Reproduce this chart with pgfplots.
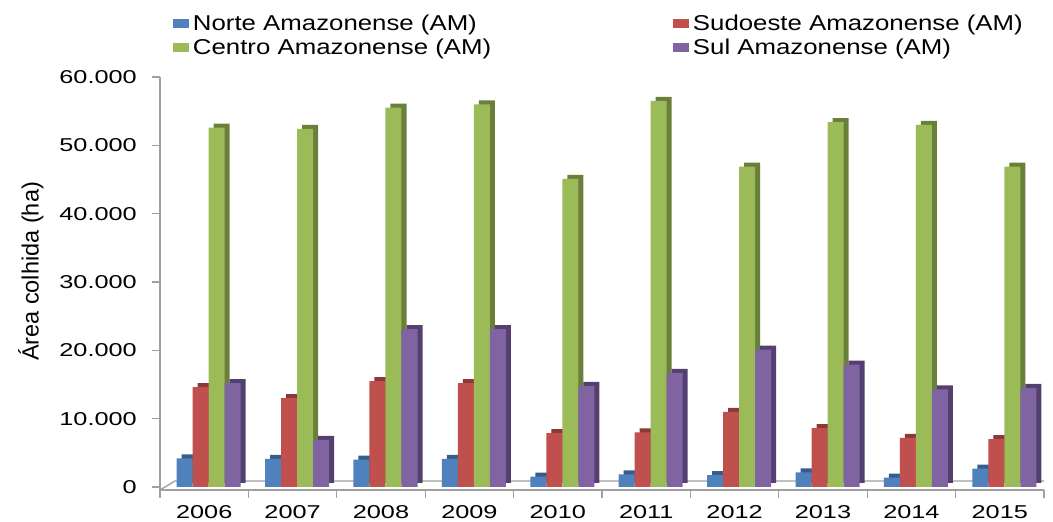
\documentclass[border=0pt]{standalone}
\usepackage{pgfplots}
\pgfplotsset{compat=1.18}
\usepackage{fontspec}
\setmainfont{Liberation Sans}
\newfontfamily\wfont[FakeStretch=1.36]{Liberation Sans}
\newfontfamily\gfont[FakeStretch=1.2]{Liberation Sans}
\newfontfamily\lfont{Liberation Sans}
\definecolor{axisgray}{RGB}{160,160,160}
\definecolor{cblue}{RGB}{79,129,189}
\definecolor{cred}{RGB}{192,80,77}
\definecolor{cgreen}{RGB}{155,187,89}
\definecolor{cpurple}{RGB}{128,100,162}
\definecolor{dblue}{RGB}{56,93,138}
\definecolor{dred}{RGB}{140,56,54}
\definecolor{dgreen}{RGB}{106,128,58}
\definecolor{dpurple}{RGB}{84,64,112}
\pgfplotsset{mylegend/.style={legend image code/.code={\fill[##1] (0pt,-2.7pt) rectangle (16pt,6.3pt);}}}
\pgfplotstableread{
x norte sudoeste centro sul
0 4200 14600 52600 15200
1 4100 13000 52400 6900
2 4000 15500 55500 23100
3 4100 15200 56000 23100
4 1500 7900 45100 14800
5 1850 8000 56500 16700
6 1750 11000 46900 20100
7 2150 8600 53400 17900
8 1360 7200 53000 14300
9 2700 7000 46900 14500
}\data
\newcommand{\tf}{\wfont\fontsize{18.6}{22}\selectfont}
\newcommand{\gf}{\gfont\fontsize{21.5}{24}\selectfont}
\begin{document}
\begin{tikzpicture}
\path[use as bounding box] (-160pt,-32pt) rectangle (893pt,490pt);
\begin{axis}[
  at={(0pt,0pt)}, anchor=south west,
  scale only axis, width=884pt, height=413pt,
  xmin=-0.5, xmax=9.5, ymin=-440, ymax=60000,
  axis x line*=bottom, axis y line*=left,
  axis line style={draw=axisgray, line width=1.3pt},
  tick style={draw=axisgray, line width=1.3pt},
  tick align=outside, major tick length=8pt,
  xtick={-0.5,0.5,...,9.5}, xticklabels={},
  extra x ticks={0,1,...,9},
  extra x tick labels={2006,2007,2008,2009,2010,2011,2012,2013,2014,2015},
  extra x tick style={tick style={draw=none}, xticklabel style={anchor=north, inner sep=0pt, yshift=-7pt}},
  ytick={0,10000,...,60000},
  scaled y ticks=false,
  /pgf/number format/.cd, 1000 sep={.}, assume math mode=true, /pgfplots/.cd,
  ticklabel style={font=\tf, text=black},
  yticklabel style={anchor=east, inner sep=0pt, xshift=-15pt},
  ylabel={Área colhida (ha)},
  every axis y label/.style={at={(axis description cs:-0.146,0.529)}, anchor=center, rotate=90, font=\lfont\fontsize{23.5}{26}\selectfont},
  legend columns=2,
  legend cell align=left,
  legend style={at={(axis description cs:0.0147,1.1494)}, anchor=north west, draw=none, fill=none,
    inner sep=0pt, outer sep=0pt, row sep=4.5pt, font=\gf,
    nodes={inner sep=0pt, text height=15pt, text depth=5pt},
    /tikz/every odd column/.append style={column sep=4pt},
    /tikz/every even column/.append style={column sep=0pt}},
]
\draw[axisgray, line width=1.3pt] (rel axis cs:0,0) -- ([xshift=15pt,yshift=9pt]rel axis cs:0,0) -- ([xshift=5pt,yshift=9pt]rel axis cs:1,0) -- (rel axis cs:1,0);
% side/top faces
\addplot[ybar, bar width=16pt, bar shift=-19.5pt, fill=dblue, draw=none, xshift=5pt, yshift=4pt, forget plot] table[x=x,y=norte]{\data};
\addplot[ybar, bar width=16pt, bar shift=-3.5pt, fill=dred, draw=none, xshift=5pt, yshift=4pt, forget plot] table[x=x,y=sudoeste]{\data};
\addplot[ybar, bar width=16pt, bar shift=12.5pt, fill=dgreen, draw=none, xshift=5pt, yshift=4pt, forget plot] table[x=x,y=centro]{\data};
\addplot[ybar, bar width=16pt, bar shift=28.5pt, fill=dpurple, draw=none, xshift=5pt, yshift=4pt, forget plot] table[x=x,y=sul]{\data};
% front faces
\addplot[ybar, bar width=16pt, bar shift=-19.5pt, fill=cblue, draw=none, mylegend] table[x=x,y=norte]{\data};
\addlegendentry{\makebox[480pt][l]{Norte Amazonense (AM)}}
\addplot[ybar, bar width=16pt, bar shift=-3.5pt, fill=cred, draw=none, mylegend] table[x=x,y=sudoeste]{\data};
\addlegendentry{Sudoeste Amazonense (AM)}
\addplot[ybar, bar width=16pt, bar shift=12.5pt, fill=cgreen, draw=none, mylegend] table[x=x,y=centro]{\data};
\addlegendentry{\makebox[480pt][l]{Centro Amazonense (AM)}}
\addplot[ybar, bar width=16pt, bar shift=28.5pt, fill=cpurple, draw=none, mylegend] table[x=x,y=sul]{\data};
\addlegendentry{Sul Amazonense (AM)}
\end{axis}
\end{tikzpicture}
\end{document}
